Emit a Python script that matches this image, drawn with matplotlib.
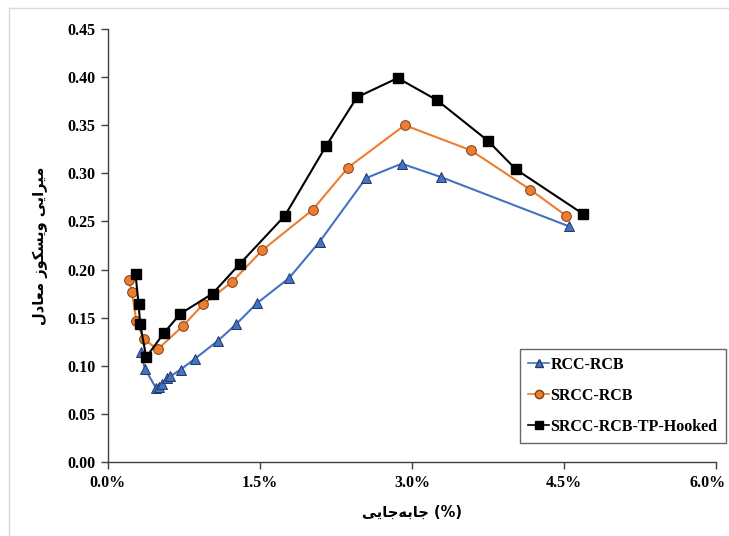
import matplotlib.pyplot as plt
import matplotlib.transforms as mtransforms
from matplotlib.lines import Line2D

# data (drift %, equivalent viscous damping)
rcc_x = [0.323, 0.365, 0.474, 0.500, 0.530, 0.586, 0.615, 0.717, 0.855, 1.086,
         1.264, 1.471, 1.787, 2.090, 2.547, 2.899, 3.290, 4.548]
rcc_y = [0.114, 0.097, 0.077, 0.078, 0.081, 0.087, 0.089, 0.096, 0.107, 0.126,
         0.143, 0.165, 0.191, 0.229, 0.295, 0.310, 0.296, 0.245]

srcc_x = [0.207, 0.237, 0.280, 0.352, 0.491, 0.737, 0.941, 1.224, 1.523, 2.020,
          2.370, 2.929, 3.580, 4.169, 4.521]
srcc_y = [0.189, 0.177, 0.147, 0.128, 0.117, 0.141, 0.164, 0.187, 0.220, 0.262,
          0.306, 0.350, 0.324, 0.283, 0.256]

hook_x = [0.273, 0.303, 0.319, 0.378, 0.553, 0.714, 1.033, 1.303, 1.747, 2.151,
          2.458, 2.860, 3.248, 3.748, 4.028, 4.686]
hook_y = [0.195, 0.164, 0.143, 0.109, 0.134, 0.154, 0.175, 0.206, 0.256, 0.328,
          0.379, 0.399, 0.376, 0.334, 0.304, 0.258]

labels = ['RCC-RCB', 'SRCC-RCB', 'SRCC-RCB-TP-Hooked']
x_ticks = [0, 1.5, 3.0, 4.5, 6.0]
x_ticklabels = ['0.0%', '1.5%', '3.0%', '4.5%', '6.0%']
y_ticks = [i * 0.05 for i in range(10)]

# Persian labels, pre-shaped (presentation forms) and put in visual order
ylabel_logical = ('\uFEE3\uFEF4\uFEAE\uFE8D\uFEF3\uFEF0 '
                  '\uFEED\uFEF3\uFEB4\uFEDC\uFEEE\uFEAF '
                  '\uFEE3\uFECC\uFE8E\uFEA9\uFEDD')
xlabel_logical = '\uFE9F\uFE8E\uFE91\uFEEA\uFE9F\uFE8E\uFEF3\uFEF0'
ylabel_text = ylabel_logical[::-1]
xlabel_text = xlabel_logical[::-1] + ' (%)'

serif = ['Liberation Serif', 'DejaVu Serif']

fig = plt.figure(figsize=(7.29, 5.36), dpi=100)
ax = fig.add_axes([0.148, 0.138, 0.834, 0.808])

ax.plot(rcc_x, rcc_y, color='#4472C4', lw=1.5, marker='^', ms=7,
        mfc='#4472C4', mec='#203864', mew=0.7, label=labels[0])
ax.plot(srcc_x, srcc_y, color='#ED7D31', lw=1.5, marker='o', ms=7,
        mfc='#ED7D31', mec='#7F4012', mew=0.7, label=labels[1])
ax.plot(hook_x, hook_y, color='black', lw=1.5, marker='s', ms=7,
        mfc='black', mec='black', label=labels[2])

ax.set_xlim(0, 6.0)
ax.set_ylim(0, 0.45)
ax.set_xticks(x_ticks)
ax.set_xticklabels(x_ticklabels, fontfamily=serif, fontweight='bold', fontsize=11.5)
ax.set_yticks(y_ticks)
ax.set_yticklabels(['%.2f' % v for v in y_ticks], fontfamily=serif,
                   fontweight='bold', fontsize=11.5)
ax.tick_params(direction='out', length=5, width=1, color='#404040', pad=4)

# keep the last x label inside the figure
last = ax.get_xticklabels()[-1]
last.set_transform(last.get_transform() +
                   mtransforms.ScaledTranslation(-6 / 72, 0, fig.dpi_scale_trans))

for s in ['top', 'right']:
    ax.spines[s].set_visible(False)
for s in ['left', 'bottom']:
    ax.spines[s].set_color('#404040')
    ax.spines[s].set_linewidth(1)

ax.set_ylabel(ylabel_text, fontfamily='DejaVu Sans', fontweight='bold',
              fontsize=10.5, labelpad=14)
ax.set_xlabel(xlabel_text, fontfamily='DejaVu Sans', fontweight='bold',
              fontsize=10.5, labelpad=10)

handles = [
    Line2D([], [], color='#4472C4', lw=1.2, marker='^', ms=6, mfc='#4472C4', mec='#203864'),
    Line2D([], [], color='#ED7D31', lw=1.2, marker='o', ms=6, mfc='#ED7D31', mec='#7F4012'),
    Line2D([], [], color='black', lw=1.2, marker='s', ms=6, mfc='black'),
]
leg = ax.legend(handles, labels, loc='lower right', bbox_to_anchor=(1.016, 0.044),
                prop={'family': serif, 'weight': 'bold', 'size': 11.5},
                handlelength=1.3, handletextpad=0.1, labelspacing=0.95,
                frameon=True, fancybox=False, borderpad=0.5, borderaxespad=0)
leg.get_frame().set_edgecolor('#404040')
leg.get_frame().set_linewidth(1)

# light outer border of the chart area
fig.add_artist(Line2D([9 / 729, 9 / 729], [0, 1 - 8 / 536], color='#d9d9d9', lw=1))
fig.add_artist(Line2D([9 / 729, 1], [1 - 8 / 536, 1 - 8 / 536], color='#d9d9d9', lw=1))

fig.savefig('out.png', dpi=100)
